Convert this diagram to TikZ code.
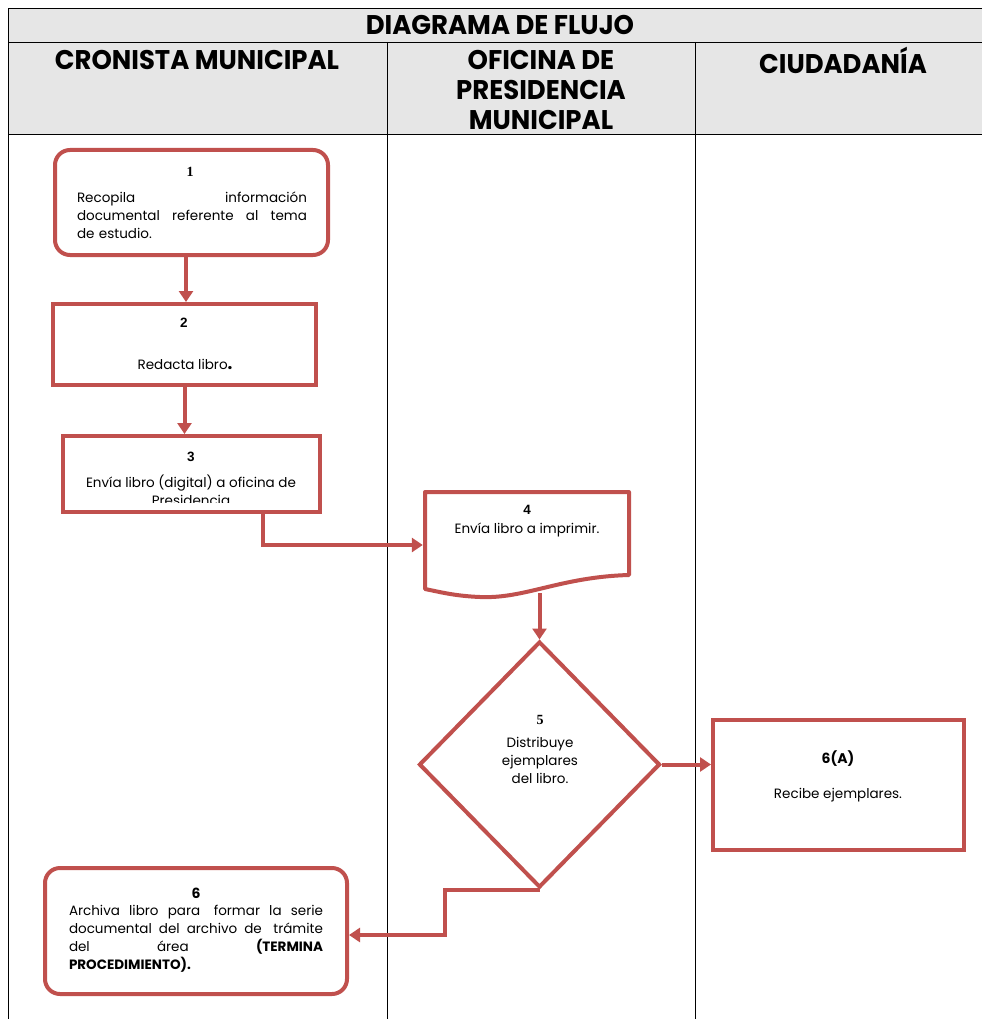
\documentclass[tikz,border=0pt]{standalone}
\usepackage{fontspec}
\setmainfont{Poppins}
\newfontfamily\hdr[FakeStretch=0.96]{Poppins}
\newfontfamily\serifn{Liberation Serif}
\newfontfamily\arialn{Liberation Sans}
\usetikzlibrary{arrows.meta,shapes.geometric}
\definecolor{lnred}{HTML}{C0504D}
\definecolor{hdrgray}{HTML}{E6E6E6}
\newcommand{\gap}{ \hspace{0pt plus 1fill}}
\begin{document}
\begin{tikzpicture}[x=1pt,y=-1pt,
  box/.style={draw=lnred,line width=4pt,inner sep=0pt,fill=white},
  rbox/.style={box,rounded corners=15pt},
  arr/.style={draw=lnred,line width=4pt,-{Triangle[length=11pt,width=14pt]}},
  body/.style={font=\fontsize{13.5}{18}\selectfont,inner sep=0pt,align=center},
  numS/.style={font=\serifn\bfseries\fontsize{14}{14}\selectfont,inner sep=0pt},
  numA/.style={font=\arialn\bfseries\fontsize{13.5}{14}\selectfont,inner sep=0pt},
  numP/.style={font=\bfseries\fontsize{14}{14}\selectfont,inner sep=0pt},
  lane/.style={draw=black,line width=0.8pt},
  hd/.style={font=\hdr\bfseries\fontsize{27}{30}\selectfont,inner sep=0pt,align=center}
]
\useasboundingbox (0,0) rectangle (982,1019);
% table
\fill[hdrgray] (8,8) rectangle (982,134);
\draw[lane] (982,8) -- (8,8) -- (8,1019);
\draw[lane] (8,42) -- (982,42);
\draw[lane] (8,134) -- (982,134);
\draw[lane] (387,42) -- (387,1019);
\draw[lane] (695,42) -- (695,1019);
\node[hd] (title) at (500,25) {DIAGRAMA DE FLUJO};
\node[hd] (h1) at (197,60) {CRONISTA MUNICIPAL};
\node[hd] (h2) at (541,89.5) {OFICINA DE\\PRESIDENCIA\\MUNICIPAL};
\node[hd] (h3) at (843,60) {CIUDADANÍA};
% box 1
\node[rbox,minimum width=273pt,minimum height=105pt] (b1) at (191.5,202.5) {};
\node[numS] (n1) at (190,172) {1};
\node[body,text width=230pt,align=left] (t1) at (192,215)
  {\makebox[230pt][s]{Recopila\gap información}\\
   \makebox[230pt][s]{documental\gap referente\gap al\gap tema}\\
   de estudio.};
% box 2
\node[box,minimum width=263pt,minimum height=81pt] (b2) at (184.5,344.5) {};
\node[numA] (n2) at (184,323) {2};
\node[body] (t2) at (185,364) {Redacta libro{\bfseries\fontsize{17}{17}\selectfont.}};
% box 3
\node[box,minimum width=257pt,minimum height=76pt] (b3) at (191.5,474) {};
\node[numA] (n3) at (191,457) {3};
\begin{scope}
\clip (63,436) rectangle (320,502);
\node[body] (t3) at (191,490) {Envía libro (digital) a oficina de\\Presidencia};
\end{scope}
% box 4 (document)
\node[minimum width=208pt,minimum height=100pt,inner sep=0pt] (d4) at (527,540) {};
\draw[draw=lnred,line width=4pt,line join=round,fill=white]
  (425,492) -- (629,492) -- (629,575)
  .. controls (560,577) and (525,599) .. (480,597)
  .. controls (455,596) and (440,592) .. (425,589) -- cycle;
\node[numA] (n4) at (527,510) {4};
\node[body] (t4) at (527,530) {Envía libro a imprimir.};
% diamond 5
\node[box,diamond,minimum width=241pt,minimum height=246pt] (d5) at (539.5,764.5) {};
\node[numS] (n5) at (540,720) {5};
\node[body] (t5) at (540,760) {Distribuye\\ejemplares\\del libro.};
% box 6A
\node[box,minimum width=251pt,minimum height=130pt] (b6a) at (838.5,785) {};
\node[numP] (n6a) at (838,759) {6(A)};
\node[body] (t6a) at (838,795) {Recibe ejemplares.};
% box 6
\node[rbox,minimum width=302pt,minimum height=126pt] (b6) at (196,931) {};
\node[numP] (n6) at (196,893) {6};
\node[body,text width=254pt,align=left] (t6) at (196,939)
  {\makebox[254pt][s]{Archiva\gap libro\gap para\gap\ formar\gap la\gap serie}\\
   \makebox[254pt][s]{documental\gap del\gap archivo\gap de\gap\ trámite}\\
   \makebox[254pt][s]{del\gap área\gap \textbf{(TERMINA}}\\
   \textbf{PROCEDIMIENTO).}};
% connectors
\draw[arr] ([xshift=-5.5pt]b1.south) -- ([xshift=-5.5pt]b1.south |- b2.north);
\draw[arr] (b2.south) -- (b2.south |- b3.north);
\draw[arr] ([xshift=71.5pt]b3.south) |- ([yshift=-5pt]d4.west);
\draw[arr] ([xshift=12.5pt,yshift=-3pt]d4.south) -- (d5.north);
\draw[arr] (d5.east) -- (d5.east -| b6a.west);
\draw[arr] (d5.south) -- ++(-95,0) |- ([yshift=-4pt]b6.east);
\end{tikzpicture}
\end{document}
